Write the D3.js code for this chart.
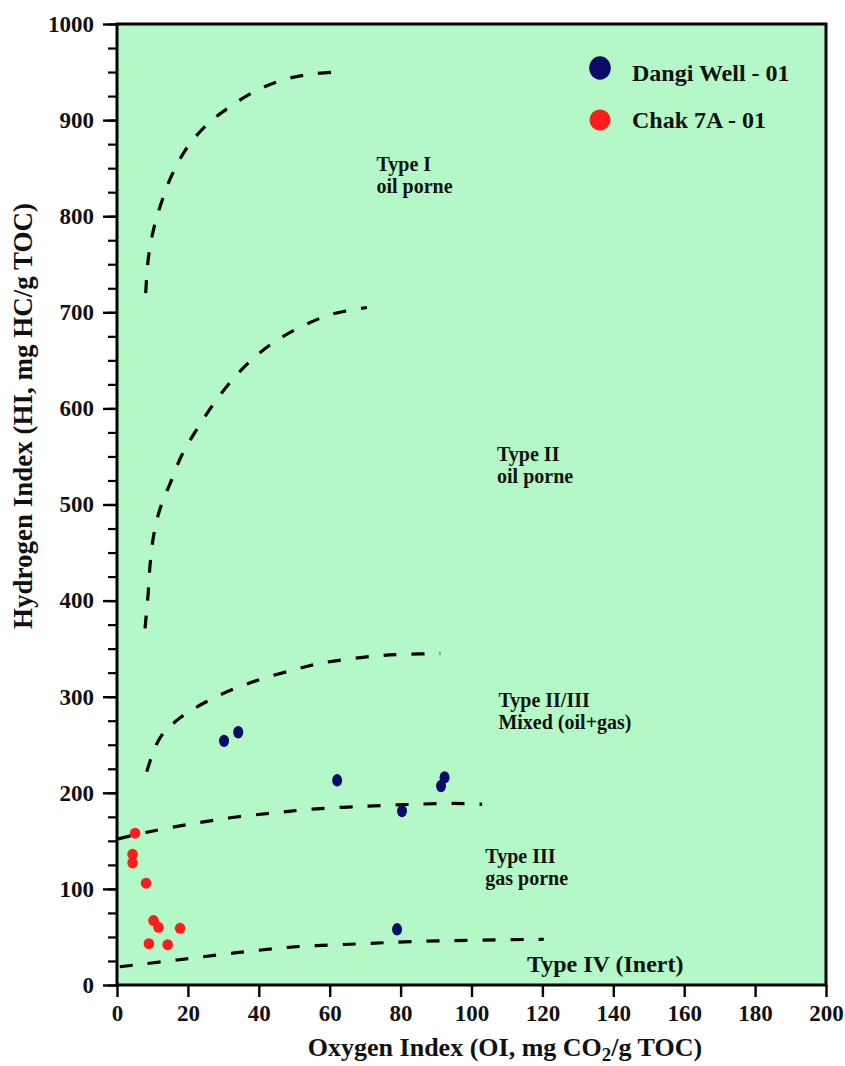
<!DOCTYPE html>
<html>
<head>
<meta charset="utf-8">
<script src="https://cdn.jsdelivr.net/npm/d3@7"></script>
<style>
  body { margin: 0; background: #fff; }
  text { font-family: "Liberation Serif", "Times New Roman", serif; font-weight: bold; fill: #111; }
</style>
</head>
<body>
<div id="chart"></div>
<script>
// samples (OI, HI)
const dangiOI = [30.2, 34.2, 62.1, 92.4, 91.4, 80.4, 79.0];
const dangiHI = [254, 263, 213, 216, 207, 181, 58];
const chakOI = [5.1, 4.4, 4.4, 8.2, 10.3, 11.7, 17.8, 9.0, 14.3];
const chakHI = [158, 136, 127, 106, 67, 60, 59, 43, 42];

// kerogen boundary curves [OI, HI]
const typeICurve = [[8.1, 720], [8.8, 755], [10.3, 786], [12.6, 815], [15.5, 843], [19.7, 871], [25.3, 895], [31.9, 914], [39.5, 931], [47, 942], [55, 948], [63, 950]];
const typeIICurve = [[7.9, 371], [8.8, 408], [9.3, 436], [10.3, 467], [12.1, 495], [15, 522], [18.5, 553], [23, 581], [27.7, 607], [33.3, 633], [39, 654], [45.6, 672], [53.1, 687], [60.6, 698], [70.5, 705]];
const typeIIIIICurve = [[8.4, 222], [12.1, 257], [17.8, 278], [25.3, 295], [32.9, 308], [40.4, 318], [48.9, 327], [56.4, 334], [64.9, 339], [73.4, 342.5], [80.9, 344], [91.2, 345]];
const typeIIICurve = [[0.3, 152], [8.5, 159], [20, 167], [32, 174], [44, 179], [55, 183], [70, 186], [83.6, 188], [95, 189], [103, 188]];
const typeIVCurve = [[0.8, 19], [16.9, 26], [33.8, 33.6], [50.8, 39.9], [67.7, 42.7], [82.8, 45.1], [100, 46.5], [120.4, 47.6]];

const xTicks = [0, 20, 40, 60, 80, 100, 120, 140, 160, 180, 200];
const yTicks = [0, 100, 200, 300, 400, 500, 600, 700, 800, 900, 1000];
const yMinorTicks = d3.range(0, 1001, 25);

const zoneLabels = [
  { lines: ["Type I", "oil porne"], oi: 73.2, hi: 847 },
  { lines: ["Type II", "oil porne"], oi: 107.2, hi: 545 },
  { lines: ["Type II/III", "Mixed (oil+gas)"], oi: 107.6, hi: 289 },
  { lines: ["Type III", "gas porne"], oi: 103.9, hi: 127 }
];

const width = 845, height = 1066;
const margin = { top: 24, right: 19, bottom: 81, left: 117 };

const svg = d3.select("#chart")
  .append("svg")
  .attr("width", width)
  .attr("height", height);

const x = d3.scaleLinear().domain([0, 200]).range([margin.left, width - margin.right]);
const y = d3.scaleLinear().domain([0, 1000]).range([height - margin.bottom, margin.top]);

// plot background
svg.append("rect")
  .attr("x", x(0)).attr("y", y(1000))
  .attr("width", x(200) - x(0)).attr("height", y(0) - y(1000))
  .attr("fill", "#b3f8c6");

// boundary lines
const line = d3.line()
  .x(d => x(d[0]))
  .y(d => y(d[1]))
  .curve(d3.curveCatmullRom.alpha(0.5));

[typeICurve, typeIICurve, typeIIIIICurve, typeIIICurve, typeIVCurve].forEach(c => {
  svg.append("path")
    .datum(c)
    .attr("d", line)
    .attr("fill", "none")
    .attr("stroke", "#000")
    .attr("stroke-width", 3.2)
    .attr("stroke-dasharray", "13,15");
});

// zone labels
zoneLabels.forEach(z => {
  const t = svg.append("text")
    .attr("x", x(z.oi))
    .attr("y", y(z.hi))
    .style("font-size", "20px");
  z.lines.forEach((l, i) => {
    t.append("tspan").attr("x", x(z.oi)).attr("dy", i === 0 ? 0 : 22).text(l);
  });
});

svg.append("text")
  .attr("x", 527)
  .attr("y", 972)
  .style("font-size", "24px")
  .text("Type IV (Inert)");

// points
svg.append("g")
  .selectAll("ellipse")
  .data(d3.zip(chakOI, chakHI))
  .join("ellipse")
  .attr("cx", d => x(d[0]))
  .attr("cy", d => y(d[1]))
  .attr("rx", 5.3)
  .attr("ry", 5.5)
  .attr("fill", "#ff1c1c");

svg.append("g")
  .selectAll("ellipse")
  .data(d3.zip(dangiOI, dangiHI))
  .join("ellipse")
  .attr("cx", d => x(d[0]))
  .attr("cy", d => y(d[1]))
  .attr("rx", 5)
  .attr("ry", 6.2)
  .attr("fill", "#0c0c68");

// frame
svg.append("rect")
  .attr("x", x(0)).attr("y", y(1000))
  .attr("width", x(200) - x(0)).attr("height", y(0) - y(1000))
  .attr("fill", "none")
  .attr("stroke", "#000")
  .attr("stroke-width", 3);

// y axis
const yAxisMinor = svg.append("g")
  .attr("transform", `translate(${x(0)},0)`)
  .call(d3.axisLeft(y).tickValues(yMinorTicks).tickSize(9).tickFormat(""));
yAxisMinor.select(".domain").remove();
yAxisMinor.selectAll("line").attr("stroke-width", 2.2);

const yAxis = svg.append("g")
  .attr("transform", `translate(${x(0)},0)`)
  .call(d3.axisLeft(y).tickValues(yTicks).tickSize(14).tickPadding(9).tickFormat(d3.format("d")));
yAxis.select(".domain").remove();
yAxis.selectAll("line").attr("stroke-width", 2.4);
yAxis.selectAll("text")
  .style("font-size", "23px")
  .style("font-family", '"Liberation Serif", serif')
  .style("font-weight", "bold")
  .attr("fill", "#111");

// x axis
const xAxis = svg.append("g")
  .attr("transform", `translate(0,${y(0)})`)
  .call(d3.axisBottom(x).tickValues(xTicks).tickSize(12).tickPadding(8));
xAxis.select(".domain").remove();
xAxis.selectAll("line").attr("stroke-width", 2.4);
xAxis.selectAll("text")
  .style("font-size", "23px")
  .style("font-family", '"Liberation Serif", serif')
  .style("font-weight", "bold")
  .attr("fill", "#111");

// legend
const legend = [
  { name: "Dangi Well - 01", color: "#0c0c68", rx: 10.8, ry: 11.7, cy: 68, ty: 81 },
  { name: "Chak 7A - 01", color: "#ff1c1c", rx: 10.5, ry: 10.5, cy: 120, ty: 128 }
];
legend.forEach(l => {
  svg.append("ellipse")
    .attr("cx", 600).attr("cy", l.cy)
    .attr("rx", l.rx).attr("ry", l.ry)
    .attr("fill", l.color);
  svg.append("text")
    .attr("x", 632).attr("y", l.ty)
    .style("font-size", "24px")
    .text(l.name);
});

// axis titles
const xt = svg.append("text")
  .attr("x", 505)
  .attr("y", 1056)
  .attr("text-anchor", "middle")
  .style("font-size", "26px");
xt.append("tspan").text("Oxygen Index (OI, mg CO");
xt.append("tspan").attr("dy", 5).style("font-size", "19px").text("2");
xt.append("tspan").attr("dy", -5).text("/g TOC)");

svg.append("text")
  .attr("transform", "translate(32,203) rotate(-90)")
  .attr("text-anchor", "end")
  .style("font-size", "27px")
  .text("Hydrogen Index (HI, mg HC/g TOC)");
</script>
</body>
</html>
